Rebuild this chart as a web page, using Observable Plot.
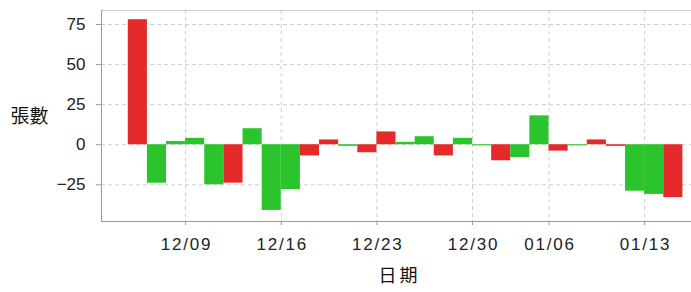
<!DOCTYPE html>
<html><head><meta charset="utf-8">
<script src="https://cdn.jsdelivr.net/npm/d3@7"></script>
<script src="https://cdn.jsdelivr.net/npm/@observablehq/plot@0.6"></script>
<style>html,body{margin:0;padding:0;background:#fff}svg{display:block}</style>
</head><body><div id="chart"></div>
<script>
const dates = ["12/04","12/05","12/06","12/09","12/10","12/11","12/12","12/13","12/16","12/17","12/18","12/19","12/20","12/23","12/24","12/25","12/26","12/27","12/30","12/31","01/02","01/03","01/06","01/07","01/08","01/09","01/10","01/13","01/14"];
const values = [78,-24,2,4,-25,-24,10,-41,-28,-7,3,-1,-5,8,1.5,5,-7,4,-0.7,-10,-8,18,-4,-0.7,3,-1,-29,-31,-33];
const colors = ["r","g","g","g","g","r","g","g","g","r","r","g","r","r","g","g","r","g","g","r","g","g","r","g","r","r","g","g","r"];
const tickDates = ["12/09","12/16","12/23","12/30","01/06","01/13"];
const yTicks = [-25,0,25,50,75];
const yLabel = "張數";
const xLabel = "日期";

const data = dates.map((d, i) => ({i, date: d, value: values[i], color: colors[i]}));
const tickIdx = tickDates.map(d => dates.indexOf(d));
const xDom = [-1.4, 29.45];
const yDom = [-47.9, 83.75];

const chart = Plot.plot({
  width: 691, height: 292,
  marginLeft: 101, marginRight: 0, marginTop: 10, marginBottom: 71,
  style: {fontFamily: "Arial, 'Liberation Sans', sans-serif", fontSize: "17px", color: "#222", background: "#fff", overflow: "visible"},
  x: {type: "linear", domain: xDom, axis: null},
  y: {domain: yDom, axis: null},
  color: {domain: ["r","g"], range: ["#e42a2a","#2cc42c"]},
  marks: [
    Plot.ruleY(yTicks, {stroke: "#cfcfcf", strokeDasharray: "4,3"}),
    Plot.ruleX(tickIdx, {stroke: "#cfcfcf", strokeDasharray: "4,3"}),
    Plot.rect(data, {x1: "i", x2: d => d.i + 1, y1: 0, y2: "value", fill: "color", inset: 0}),
    Plot.ruleY([yDom[1]], {stroke: "#cccccc"}),
    Plot.ruleX([xDom[0]], {stroke: "#999"}),
    Plot.ruleY([yDom[0]], {stroke: "#999"}),
    Plot.axisY(yTicks, {tickSize: 5, tickPadding: 11, stroke: "#999", fill: "#222", label: null}),
    Plot.axisX(tickIdx, {tickSize: 4, tickPadding: 12, stroke: "#999", fill: "#222", label: null, tickFormat: d => dates[d]}),
    Plot.text([yLabel], {text: d => d, frameAnchor: "left", dx: -91, dy: 1, textAnchor: "start", fontSize: 19, fill: "#111", fontFamily: "'Noto Sans CJK TC', sans-serif"}),
    Plot.text([xLabel], {text: d => d, frameAnchor: "bottom", dy: 55, dx: 3, lineAnchor: "middle", fontSize: 18, fill: "#111", fontFamily: "'Noto Sans CJK TC', sans-serif"})
  ]
});
document.getElementById("chart").appendChild(chart);
d3.select(chart).selectAll("text").filter(function() { return tickDates.includes(this.textContent); })
  .attr("letter-spacing", "1.8").attr("dx", "0.9");
d3.select(chart).selectAll("text").filter(function() { return this.textContent === xLabel; })
  .attr("letter-spacing", "3");
</script>
</body></html>
